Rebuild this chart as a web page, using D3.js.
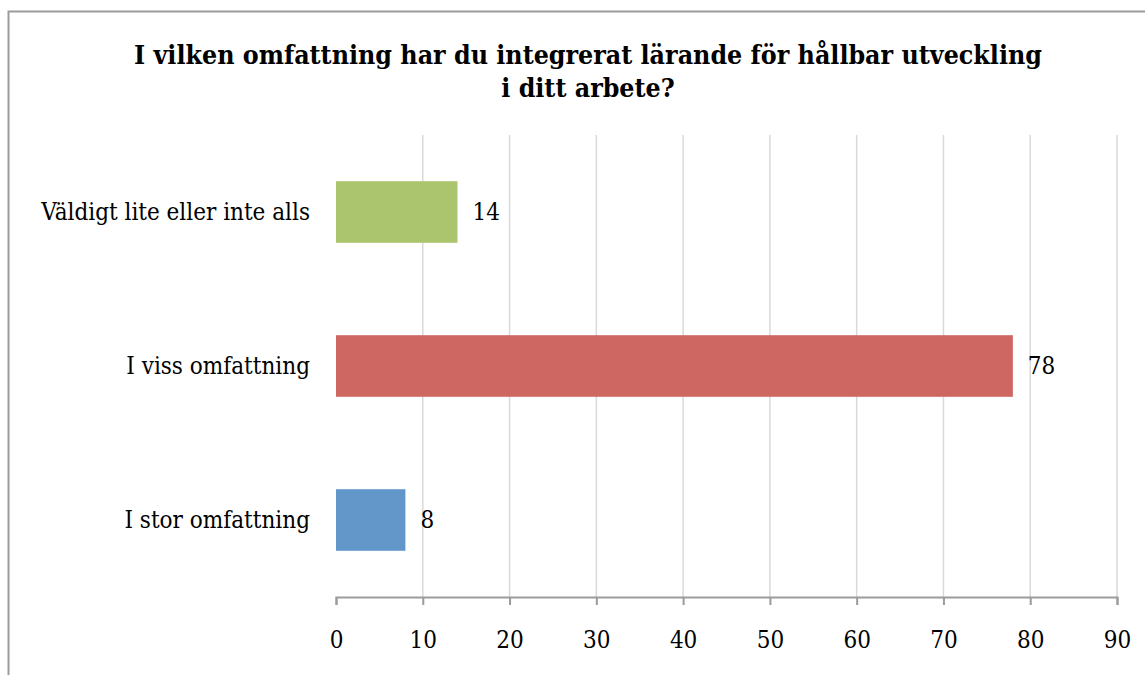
<!DOCTYPE html>
<html>
<head>
<meta charset="utf-8">
<script src="https://cdn.jsdelivr.net/npm/d3@7"></script>
<style>
  body { margin: 0; background: #fff; }
  text { font-family: "DejaVu Serif Condensed", "DejaVu Serif", serif; font-stretch: condensed; fill: #000; }
</style>
</head>
<body>
<svg id="chart"></svg>
<script>
const titleLines = ["I vilken omfattning har du integrerat lärande för hållbar utveckling", "i ditt arbete?"];
const categories = ["Väldigt lite eller inte alls", "I viss omfattning", "I stor omfattning"];
const values = [14, 78, 8];
const colors = ["#abc56f", "#ce6661", "#6497c9"];
const ticks = [0, 10, 20, 30, 40, 50, 60, 70, 80, 90];

const W = 1145, H = 675;
const margin = { top: 135, right: 28, bottom: 78, left: 336 };
const width = W - margin.left - margin.right;
const height = H - margin.top - margin.bottom;

const svg = d3.select("#chart").attr("width", W).attr("height", H);

// chart frame
svg.append("rect")
  .attr("x", 8.5).attr("y", 11.5)
  .attr("width", W + 20).attr("height", H + 20)
  .attr("fill", "none").attr("stroke", "#9b9b9b").attr("stroke-width", 2);

svg.append("text")
  .attr("x", 588).attr("y", 64)
  .attr("text-anchor", "middle")
  .style("font-size", "26.5px").style("font-weight", "bold")
  .selectAll("tspan")
  .data(titleLines)
  .join("tspan")
  .attr("x", 588)
  .attr("dy", (d, i) => i ? 33 : 0)
  .text(d => d);

const g = svg.append("g").attr("transform", `translate(${margin.left}, ${margin.top})`);

const x = d3.scaleLinear().domain([0, 90]).range([0, width]);
const y = d3.scaleBand().domain(categories).range([0, height]).paddingInner(0.6).paddingOuter(0.3);

// gridlines
g.selectAll("line.grid")
  .data(ticks.slice(1))
  .join("line")
  .attr("class", "grid")
  .attr("x1", d => x(d)).attr("x2", d => x(d))
  .attr("y1", 0).attr("y2", height)
  .attr("stroke", "#d9d9d9").attr("stroke-width", 1.5);

g.selectAll("rect.bar")
  .data(values)
  .join("rect")
  .attr("class", "bar")
  .attr("x", x(0))
  .attr("y", (d, i) => y(categories[i]))
  .attr("width", d => x(d) - x(0))
  .attr("height", y.bandwidth())
  .attr("fill", (d, i) => colors[i]);

g.selectAll("text.val")
  .data(values)
  .join("text")
  .attr("class", "val")
  .attr("x", d => x(d) + 15)
  .attr("y", (d, i) => y(categories[i]) + y.bandwidth() / 2)
  .attr("dy", "0.35em")
  .style("font-size", "24px")
  .text(d => d);

g.selectAll("text.cat")
  .data(categories)
  .join("text")
  .attr("class", "cat")
  .attr("x", -26)
  .attr("y", d => y(d) + y.bandwidth() / 2)
  .attr("dy", "0.35em")
  .attr("text-anchor", "end")
  .style("font-size", "24px")
  .text(d => d);

const xAxis = g.append("g")
  .attr("transform", `translate(0, ${height})`)
  .call(d3.axisBottom(x).tickValues(ticks).tickSize(8).tickPadding(26));
xAxis.select(".domain").attr("stroke", "#9b9b9b").attr("stroke-width", 2);
xAxis.selectAll(".tick line").attr("stroke", "#9b9b9b").attr("stroke-width", 2);
xAxis.selectAll(".tick text")
  .style("font-family", "'DejaVu Serif Condensed', 'DejaVu Serif', serif")
  .style("font-size", "24px").attr("fill", "#000");
</script>
</body>
</html>
